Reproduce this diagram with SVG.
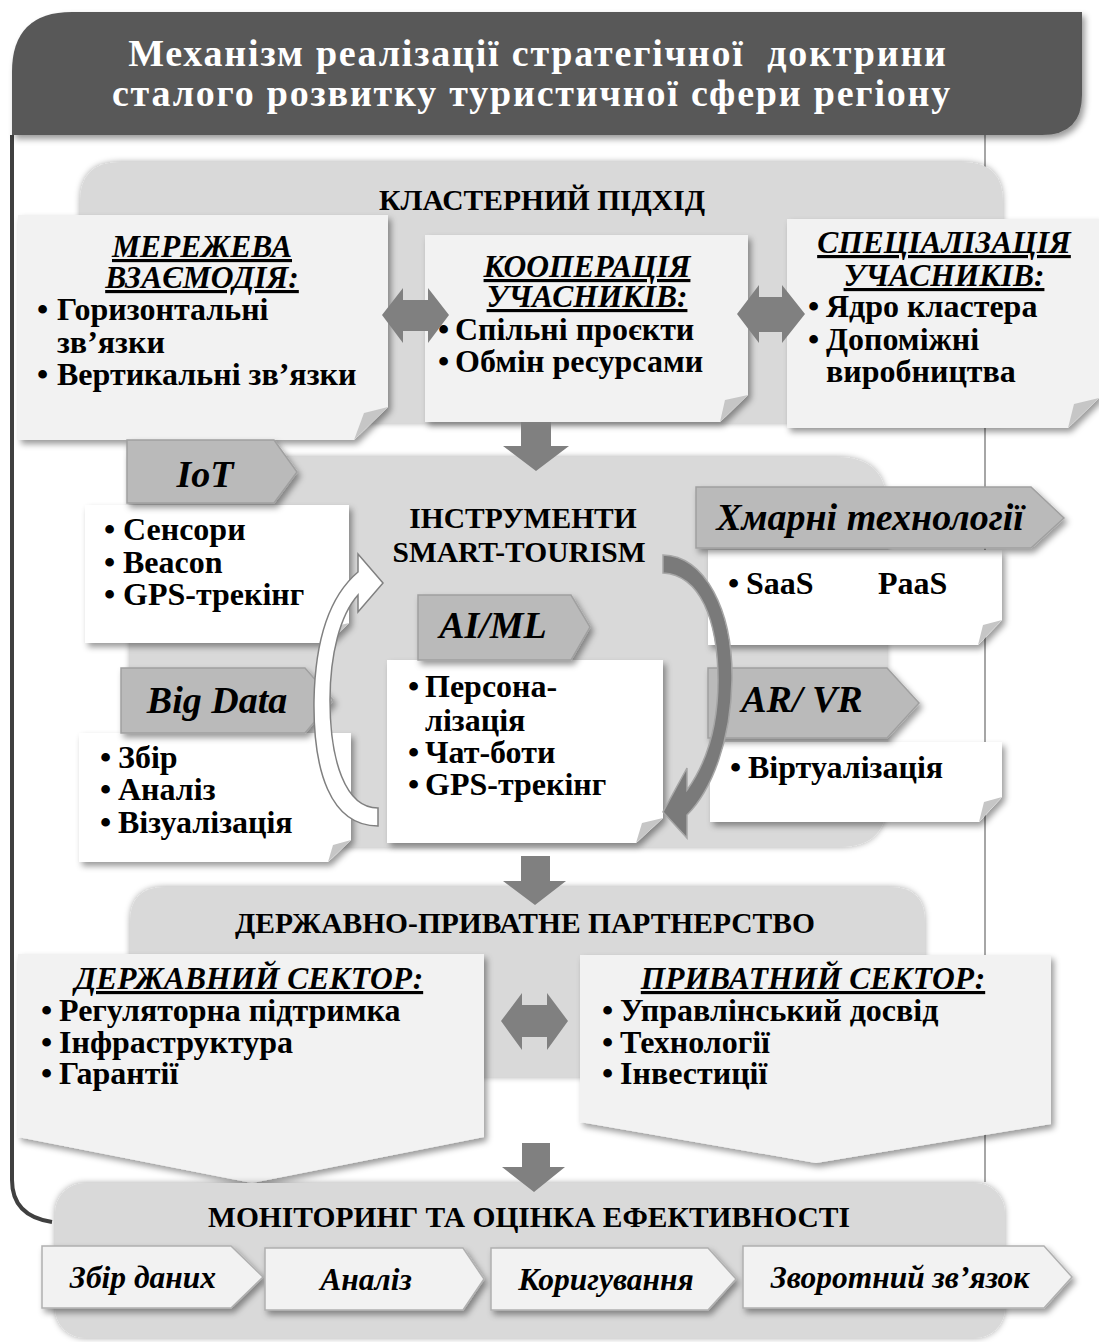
<svg xmlns="http://www.w3.org/2000/svg" width="1099" height="1342" viewBox="0 0 1099 1342">
<defs>
<filter id="sh" x="-10%" y="-10%" width="130%" height="140%">
<feDropShadow dx="3" dy="4" stdDeviation="3" flood-color="#000" flood-opacity="0.4"/>
</filter>
<filter id="shs" x="-10%" y="-10%" width="130%" height="140%">
<feDropShadow dx="0" dy="0" stdDeviation="3" flood-color="#000" flood-opacity="0.35"/>
</filter>
<style>
.t{font-family:"Liberation Serif","Times New Roman",serif;font-weight:bold;fill:#000}
.w{fill:#fff}
.it{font-style:italic}
.u{text-decoration:underline}
.c{text-anchor:middle}
.h{font-size:29.5px}
.b{font-size:32px}
.hd{font-size:31.5px}
.tg{font-size:38px}
.st{font-size:31.5px}
.sec{fill:#d9d9d9;filter:url(#shs)}
.card{fill:#f2f2f2;filter:url(#sh)}
.wcard{fill:#ffffff;filter:url(#sh)}
.fold{fill:#c6c6c6}
.tag{fill:#bababa;stroke:#a0a0a0;stroke-width:1.5;filter:url(#sh)}
.blk{fill:#808080}
.step{fill:#f2f2f2;stroke:#b0b0b0;stroke-width:1.5;filter:url(#sh)}
</style>
</defs>
<rect width="1099" height="1342" fill="#fff"/>

<g id="frame">
<path d="M12,135 L12,1180 Q12,1216 52,1222" fill="none" stroke="#404040" stroke-width="4"/>
<line x1="985" y1="135" x2="985" y2="1182" stroke="#a6a6a6" stroke-width="2"/>
</g>

<g id="title">
<path d="M12,135 L12,72 Q12,12 72,12 L1082,12 L1082,95 Q1082,135 1042,135 Z" fill="#595959" filter="url(#sh)"/>
<text class="t w c" x="538" y="66" font-size="38" letter-spacing="1.8" xml:space="preserve">Механізм реалізації стратегічної  доктрини</text>
<text class="t w c" x="532" y="106" font-size="38" letter-spacing="1.8">сталого розвитку туристичної сфери регіону</text>
</g>

<g id="cluster">
<path class="sec" d="M80,423 L80,202 Q80,162 120,162 L963,162 Q1003,162 1003,202 L1003,423 Z"/>
<text class="t h c" x="542" y="210">КЛАСТЕРНИЙ ПІДХІД</text>
</g>

<g id="network">
<polygon class="card" points="18,215 388,215 388,407 354,440 18,440"/>
<polygon class="fold" points="354,440 388,407 364,413"/>
<text class="t hd it u c" x="202" y="257">МЕРЕЖЕВА</text>
<text class="t hd it u c" x="202" y="288">ВЗАЄМОДІЯ:</text>
<text class="t b"><tspan x="37" y="320">•</tspan><tspan x="57" y="320">Горизонтальні</tspan><tspan x="57" y="353">зв’язки</tspan><tspan x="37" y="385">•</tspan><tspan x="57" y="385">Вертикальні зв’язки</tspan></text>
</g>

<g id="cooperation">
<polygon class="card" points="425,235 748,235 748,395 720,422 425,422"/>
<polygon class="fold" points="720,422 748,395 725,400"/>
<text class="t hd it u c" x="587" y="277">КООПЕРАЦІЯ</text>
<text class="t hd it u c" x="587" y="307">УЧАСНИКІВ:</text>
<text class="t b"><tspan x="438" y="340">•</tspan><tspan x="455" y="340">Спільні проєкти</tspan><tspan x="438" y="372">•</tspan><tspan x="455" y="372">Обмін ресурсами</tspan></text>
</g>

<g id="specialization">
<polygon class="card" points="787,219 1099,219 1099,398 1068,428 787,428"/>
<polygon class="fold" points="1068,428 1099,398 1074,404"/>
<text class="t hd it u c" x="944" y="253">СПЕЦІАЛІЗАЦІЯ</text>
<text class="t hd it u c" x="944" y="286">УЧАСНИКІВ:</text>
<text class="t b"><tspan x="808" y="317">•</tspan><tspan x="826" y="317">Ядро кластера</tspan><tspan x="808" y="350">•</tspan><tspan x="826" y="350">Допоміжні</tspan><tspan x="826" y="382">виробництва</tspan></text>
</g>

<g id="smart-tourism">
<path class="sec" d="M130,457 L837,457 Q887,457 887,507 L887,800 Q887,847 840,847 L130,847 Z"/>
<text class="t h c" x="523" y="528">ІНСТРУМЕНТИ</text>
<text class="t h c" x="519" y="562">SMART-TOURISM</text>
</g>

<g id="iot">
<polygon class="wcard" points="85,505 349,505 349,623 328,643 85,643"/>
<polygon class="fold" points="328,643 349,623 332,627"/>
<polygon class="tag" points="127,440 274,440 297,472 274,503 127,503"/>
<text class="t tg it c" x="205" y="487">IoT</text>
<text class="t b"><tspan x="104" y="540">•</tspan><tspan x="123" y="540">Сенсори</tspan><tspan x="104" y="573">•</tspan><tspan x="123" y="573">Beacon</tspan><tspan x="104" y="605">•</tspan><tspan x="123" y="605">GPS-трекінг</tspan></text>
</g>

<g id="big-data">
<polygon class="wcard" points="79,733 351,733 351,840 328,862 79,862"/>
<polygon class="fold" points="328,862 351,840 333,845"/>
<polygon class="tag" points="121,668 305,668 333,700 305,733 121,733"/>
<text class="t tg it c" x="217" y="713">Big Data</text>
<text class="t b"><tspan x="100" y="768">•</tspan><tspan x="118" y="768">Збір</tspan><tspan x="100" y="800">•</tspan><tspan x="118" y="800">Аналіз</tspan><tspan x="100" y="833">•</tspan><tspan x="118" y="833">Візуалізація</tspan></text>
</g>

<g id="ai-ml">
<polygon class="wcard" points="387,660 663,660 663,818 636,843 387,843"/>
<polygon class="fold" points="636,843 663,818 642,823"/>
<polygon class="tag" points="418,595 571,595 590,627 571,660 418,660"/>
<text class="t tg it c" x="493" y="638">AI/ML</text>
<text class="t b"><tspan x="408" y="697">•</tspan><tspan x="425" y="697">Персона-</tspan><tspan x="425" y="731">лізація</tspan><tspan x="408" y="763">•</tspan><tspan x="425" y="763">Чат-боти</tspan><tspan x="408" y="795">•</tspan><tspan x="425" y="795">GPS-трекінг</tspan></text>
</g>

<g id="cloud">
<polygon class="wcard" points="708,550 1002,550 1002,620 978,645 708,645"/>
<polygon class="fold" points="978,645 1002,620 983,625"/>
<polygon class="tag" points="696,487 1031,487 1064,518 1031,548 696,548"/>
<text class="t tg it c" x="870" y="530">Хмарні технології</text>
<text class="t b"><tspan x="728" y="594">•</tspan><tspan x="746" y="594">SaaS</tspan><tspan x="878" y="594">PaaS</tspan></text>
</g>

<g id="ar-vr">
<polygon class="wcard" points="710,742 1002,742 1002,797 979,822 710,822"/>
<polygon class="fold" points="979,822 1002,797 984,802"/>
<polygon class="tag" points="708,668 887,668 919,703 887,738 708,738"/>
<text class="t tg it c" x="802" y="712">AR/ VR</text>
<text class="t b"><tspan x="730" y="778">•</tspan><tspan x="748" y="778">Віртуалізація</tspan></text>
</g>

<g id="ppp">
<path class="sec" d="M130,1077 L130,922 Q130,887 165,887 L890,887 Q925,887 925,922 L925,1077 Z"/>
<text class="t h c" x="525" y="933">ДЕРЖАВНО-ПРИВАТНЕ ПАРТНЕРСТВО</text>
</g>

<g id="public-sector">
<polygon class="card" points="18,954 484,954 484,1137 252,1183 18,1137"/>
<text class="t hd it u c" x="249" y="989">ДЕРЖАВНИЙ СЕКТОР:</text>
<text class="t b"><tspan x="41" y="1021">•</tspan><tspan x="59" y="1021">Регуляторна підтримка</tspan><tspan x="41" y="1053">•</tspan><tspan x="59" y="1053">Інфраструктура</tspan><tspan x="41" y="1084">•</tspan><tspan x="59" y="1084">Гарантії</tspan></text>
</g>

<g id="private-sector">
<polygon class="card" points="580,955 1051,955 1051,1124 816,1163 580,1122"/>
<text class="t hd it u c" x="813" y="989">ПРИВАТНИЙ СЕКТОР:</text>
<text class="t b"><tspan x="602" y="1021">•</tspan><tspan x="620" y="1021">Управлінський досвід</tspan><tspan x="602" y="1053">•</tspan><tspan x="620" y="1053">Технології</tspan><tspan x="602" y="1084">•</tspan><tspan x="620" y="1084">Інвестиції</tspan></text>
</g>

<g id="monitoring">
<rect class="sec" x="55" y="1183" width="950" height="155" rx="30"/>
<text class="t h c" x="529" y="1227">МОНІТОРИНГ ТА ОЦІНКА ЕФЕКТИВНОСТІ</text>
<polygon class="step" points="42,1246 231,1246 263,1277 231,1308 42,1308"/>
<text class="t st it c" x="143" y="1288">Збір даних</text>
<polygon class="step" points="265,1248 463,1248 484,1279 463,1310 265,1310"/>
<text class="t st it c" x="366" y="1290">Аналіз</text>
<polygon class="step" points="491,1248 708,1248 736,1279 708,1310 491,1310"/>
<text class="t st it c" x="606" y="1290">Коригування</text>
<polygon class="step" points="743,1246 1044,1246 1072,1277 1044,1308 743,1308"/>
<text class="t st it c" x="900" y="1288">Зворотний зв’язок</text>
</g>

<g id="connectors">
<polygon class="blk" points="382,315 403,288 403,300 428,300 428,288 449,315 428,343 428,331 403,331 403,343"/>
<polygon class="blk" points="737,314 759,285 759,297 782,297 782,285 805,314 782,343 782,332 759,332 759,343"/>
<polygon class="blk" points="501,1021 522,993 522,1005 547,1005 547,993 568,1021 547,1050 547,1037 522,1037 522,1050"/>
<polygon class="blk" points="521,422 551,422 551,446 569,446 536,471 503,446 521,446"/>
<polygon class="blk" points="521,856 550,856 550,881 566,881 535,905 503,881 521,881"/>
<polygon class="blk" points="522,1143 550,1143 550,1167 565,1167 534,1192 502,1167 522,1167"/>
<path d="M378,826 C330,826 313,770 314,700 C315,650 325,600 358,572 L358,554 L383,583 L358,612 L358,595 C340,615 330,655 330,700 C330,760 345,808 378,808 Z" fill="#fff" stroke="#808080" stroke-width="1.5"/>
<path d="M663,555 C705,556 733,610 732,680 C731,740 712,790 687,815 L687,838 L663,812 L687,768 L687,790 C705,765 718,730 718,680 C718,620 700,575 663,573 Z" fill="#7a7a7a" stroke="#a6a6a6" stroke-width="1.5"/>
</g>
</svg>
